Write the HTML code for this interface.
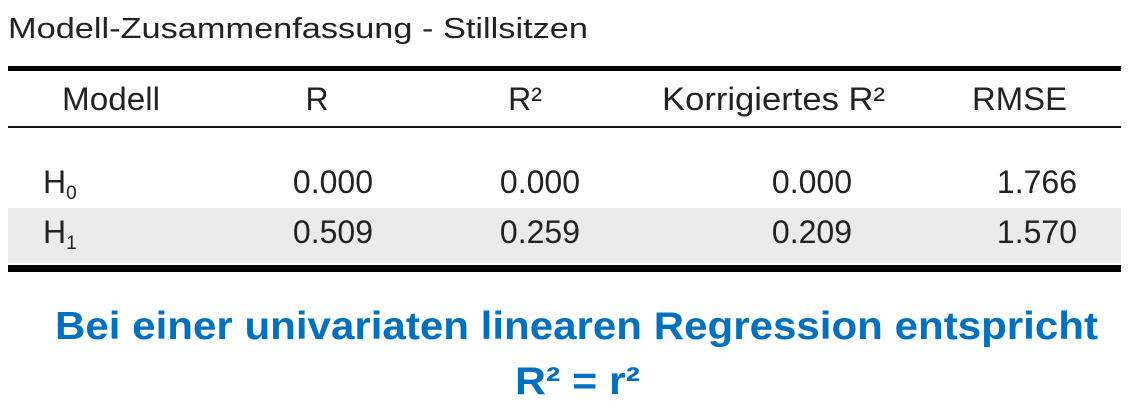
<!DOCTYPE html>
<html><head><meta charset="utf-8"><style>
html,body{margin:0;padding:0;background:#fff;}
svg{display:block;}
text{font-family:"Liberation Sans",Arial,sans-serif;fill:#222;}
.b{font-family:"Liberation Sans",sans-serif;font-weight:bold;fill:#0070C0;}
</style></head><body>
<svg width="1129" height="410" viewBox="0 0 1129 410">
<text x="8" y="38" font-size="29" textLength="580" lengthAdjust="spacingAndGlyphs">Modell-Zusammenfassung - Stillsitzen</text>
<rect x="8" y="66" width="1113" height="5" fill="#000"/>
<g font-size="32">
<text x="62" y="110" textLength="98" lengthAdjust="spacingAndGlyphs">Modell</text>
<text x="317" y="110" text-anchor="middle">R</text>
<text x="525" y="110" text-anchor="middle">R²</text>
<text x="662" y="110" textLength="223" lengthAdjust="spacingAndGlyphs">Korrigiertes R²</text>
<text x="972" y="110" textLength="95" lengthAdjust="spacingAndGlyphs">RMSE</text>
</g>
<rect x="8" y="126" width="1113" height="2" fill="#111"/>
<rect x="8" y="208" width="1113" height="55" fill="#ebebeb"/>
<g font-size="32">
<text x="43" y="193">H<tspan font-size="19" dy="6">0</tspan></text>
<text x="373" y="193" text-anchor="end">0.000</text>
<text x="580" y="193" text-anchor="end">0.000</text>
<text x="852" y="193" text-anchor="end">0.000</text>
<text x="1077" y="193" text-anchor="end">1.766</text>
</g>
<g font-size="32">
<text x="43" y="243">H<tspan font-size="19" dy="6">1</tspan></text>
<text x="373" y="243" text-anchor="end">0.509</text>
<text x="580" y="243" text-anchor="end">0.259</text>
<text x="852" y="243" text-anchor="end">0.209</text>
<text x="1077" y="243" text-anchor="end">1.570</text>
</g>
<rect x="8" y="265" width="1113" height="7" fill="#000"/>
<text class="b" x="55" y="339" font-size="39" textLength="1043" lengthAdjust="spacingAndGlyphs">Bei einer univariaten linearen Regression entspricht</text>
<text class="b" x="515" y="394" font-size="39" textLength="125" lengthAdjust="spacingAndGlyphs">R² = r²</text>
</svg>
</body></html>
